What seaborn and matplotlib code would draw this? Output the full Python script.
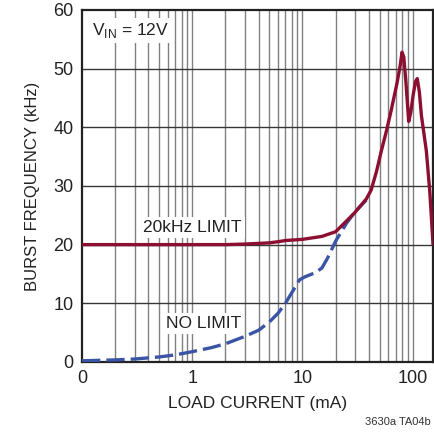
import numpy as np
import pandas as pd
import matplotlib
matplotlib.use("Agg")
import matplotlib.pyplot as plt
import seaborn as sb

# 20kHz limit curve (load current in mA, burst frequency in kHz)
limit_current = [0.1, 0.5, 1, 2, 3, 5, 6, 7, 10, 15, 20, 25, 30, 38, 42, 47, 52, 58,
                 64, 72, 77, 80, 83, 87, 92, 96, 101, 106, 110, 115, 120, 133, 143, 153]
limit_freq = [20, 20, 20, 20, 20.1, 20.3, 20.5, 20.7, 20.9, 21.4, 22.2, 24, 25.5, 27.8, 29.3, 32.5, 36, 39.5,
              43, 47.5, 50.5, 52.8, 52, 47.5, 41, 42.5, 45.5, 47.8, 48.3, 46, 42, 36, 29, 20]

# no limit curve
nolimit_current = [0.1, 0.2, 0.3, 0.5, 0.7, 1, 1.5, 2, 3, 4, 5, 6, 7, 8, 9.4, 10.5,
                   13, 15, 17, 20, 25, 30, 38]
nolimit_freq = [0.2, 0.35, 0.5, 0.85, 1.2, 1.75, 2.45, 3.1, 4.35, 5.4, 6.8, 8.3, 10.0, 11.8, 14.0, 14.5,
                15.2, 16.0, 17.8, 20.6, 23.6, 25.6, 27.6]

x_ticks = [0.1, 1, 10, 100]
x_ticklabels = ["0", "1", "10", "100"]
y_ticks = [0, 10, 20, 30, 40, 50, 60]

RED = "#8c0f32"
BLUE = "#3a55a5"
TXT = "#222222"

sb.set_style("white")
plt.rcParams["font.family"] = ["Liberation Sans Narrow", "Liberation Sans", "DejaVu Sans"]

fig = plt.figure(figsize=(4.35, 4.34), dpi=100)
ax = fig.add_axes([0.1885, 0.166, 0.807, 0.811])

ax.set_xscale("log")
ax.set_xlim(0.1, 153)
ax.set_ylim(0, 60)

# grid: gray verticals on every step of each decade, dark horizontals
minor = [m * 10.0 ** d for d in range(-1, 3) for m in range(1, 10)]
minor = [v for v in minor if 0.1 < v < 153]
for v in minor:
    ax.axvline(v, color="#808080", lw=1.0, zorder=0)
for v in y_ticks[1:-1]:
    ax.axhline(v, color="#383838", lw=1.0, zorder=0)

df_nl = pd.DataFrame({"current": nolimit_current, "freq": nolimit_freq})
df_lim = pd.DataFrame({"current": limit_current, "freq": limit_freq})

sb.lineplot(data=df_nl, x="current", y="freq", ax=ax, color=BLUE, lw=2.4,
            linestyle=(0, (5.5, 1.8)), zorder=3)
sb.lineplot(data=df_lim, x="current", y="freq", ax=ax, color=RED, lw=2.4, zorder=4)

ax.set_xticks(x_ticks)
ax.set_xticklabels(x_ticklabels)
ax.xaxis.set_minor_locator(matplotlib.ticker.NullLocator())
ax.set_yticks(y_ticks)
ax.tick_params(axis="both", length=0, labelsize=13, colors=TXT, pad=6)

ax.set_xlabel("LOAD CURRENT (mA)", fontsize=12.5, color=TXT, labelpad=6)
ax.set_ylabel("BURST FREQUENCY (kHz)", fontsize=12, color=TXT, labelpad=10)

for s in ax.spines.values():
    s.set_color(TXT)
    s.set_linewidth(1.6)

box = dict(facecolor="white", edgecolor="none", pad=2)
ax.text(0.122, 56.5, r"V$_{\mathregular{IN}}$ = 12V", fontsize=12.5, color=TXT,
        va="center", ha="left", bbox=box, zorder=5)
ax.text(0.36, 22.9, "20kHz LIMIT", fontsize=12.5, color=TXT,
        va="center", ha="left", bbox=box, zorder=5)
ax.text(0.58, 6.6, "NO LIMIT", fontsize=12.5, color=TXT,
        va="center", ha="left", bbox=box, zorder=5)

fig.text(0.99, 0.017, "3630a TA04b", fontsize=8, color="#333333", ha="right", va="bottom")

fig.savefig("out.png", dpi=100)
